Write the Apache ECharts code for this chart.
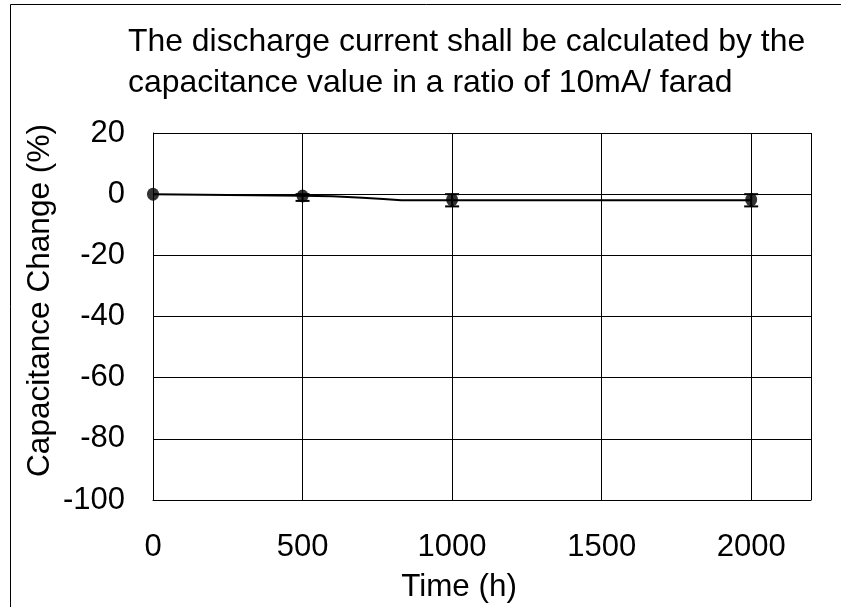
<!DOCTYPE html>
<html>
<head>
<meta charset="utf-8">
<script src="https://cdn.jsdelivr.net/npm/echarts@6/dist/echarts.min.js"></script>
<style>
html,body{margin:0;padding:0;background:#fff;}
#chart{width:841px;height:607px;}
</style>
</head>
<body>
<div id="chart"></div>
<script>
// Measured points (markers with error bars)
var pointTimes = [0, 500, 1000, 2000];
var pointValues = [0, -0.6, -1.8, -1.8];
var errLow = [0, -2.2, -4, -4];
var errHigh = [0, 0, 0, 0];
// Trend line
var lineTimes = [0, 500, 600, 700, 770, 830, 1000, 2000];
var lineValues = [0, -0.5, -0.7, -1.2, -1.6, -2, -2, -2];
// Axes
var xTicks = [0, 500, 1000, 1500, 2000];
var yTicks = [20, 0, -20, -40, -60, -80, -100];
var titleLines = ['The discharge current shall be calculated by the', 'capacitance value in a ratio of 10mA/ farad'];
var xName = 'Time (h)';
var yName = 'Capacitance Change (%)';

var FONT = '"Liberation Sans", Arial, sans-serif';
var chart = echarts.init(document.getElementById('chart'), null, {renderer: 'canvas'});

var errData = pointTimes.map(function (t, i) { return [t, errLow[i], errHigh[i]]; });

var option = {
  animation: false,
  backgroundColor: '#fff',
  textStyle: {fontFamily: FONT, color: '#000'},
  grid: {left: 153, right: 30, top: 133, bottom: 107, containLabel: false},
  xAxis: {
    type: 'value', min: 0, max: 2200, interval: 500,
    axisLine: {show: true, onZero: false, lineStyle: {color: '#000', width: 1}},
    axisTick: {show: false},
    axisLabel: {showMaxLabel: false, margin: 32, fontSize: 31, fontFamily: FONT, color: '#000',
      formatter: function (v) { return xTicks.indexOf(v) >= 0 ? String(v) : ''; }},
    splitLine: {show: true, lineStyle: {color: '#000', width: 1}}
  },
  yAxis: {
    type: 'value', min: -100, max: 20, interval: 20,
    axisLine: {show: true, onZero: false, lineStyle: {color: '#000', width: 1}},
    axisTick: {show: false},
    axisLabel: {margin: 28, fontSize: 31, fontFamily: FONT, color: '#000',
      formatter: function (v) { return yTicks.indexOf(v) >= 0 ? String(v) : ''; }},
    splitLine: {show: true, lineStyle: {color: '#000', width: 1}}
  },
  graphic: [
    {type: 'rect', shape: {x: 10.5, y: 4.5, width: 900, height: 700}, style: {fill: 'none', stroke: '#000', lineWidth: 1}, z: 100},
    {type: 'text', x: 128, y: 22, style: {text: titleLines.join('\n'), font: '31.9px ' + FONT, fill: '#000', lineHeight: 41, textAlign: 'left', textVerticalAlign: 'top'}},
    {type: 'text', x: 459, y: 587, style: {text: xName, font: '31.4px ' + FONT, fill: '#000', textAlign: 'center', textVerticalAlign: 'middle'}},
    {type: 'text', x: 40, y: 300.5, rotation: Math.PI / 2, style: {text: yName, font: '31.6px ' + FONT, fill: '#000', textAlign: 'center', textVerticalAlign: 'middle'}}
  ],
  series: [
    {
      type: 'line', data: lineTimes.map(function (t, i) { return [t, lineValues[i]]; }),
      showSymbol: false, symbol: 'none', lineStyle: {color: '#000', width: 2}, z: 3
    },
    {
      type: 'custom', z: 4,
      renderItem: function (params, api) {
        var x = api.coord([api.value(0), 0])[0];
        var lo = api.coord([api.value(0), api.value(1)])[1];
        var hi = api.coord([api.value(0), api.value(2)])[1];
        if (Math.abs(lo - hi) < 0.5) return null;
        var w = 7;
        var st = {stroke: '#000', lineWidth: 2};
        return {type: 'group', children: [
          {type: 'line', shape: {x1: x, y1: lo, x2: x, y2: hi}, style: st},
          {type: 'line', shape: {x1: x - w, y1: lo, x2: x + w, y2: lo}, style: st},
          {type: 'line', shape: {x1: x - w, y1: hi, x2: x + w, y2: hi}, style: st}
        ]};
      },
      data: errData
    },
    {
      type: 'scatter', data: pointTimes.map(function (t, i) { return [t, pointValues[i]]; }),
      symbol: 'circle', symbolSize: [12, 13], itemStyle: {color: '#000'}, z: 5
    }
  ]
};
chart.setOption(option);
</script>
</body>
</html>
